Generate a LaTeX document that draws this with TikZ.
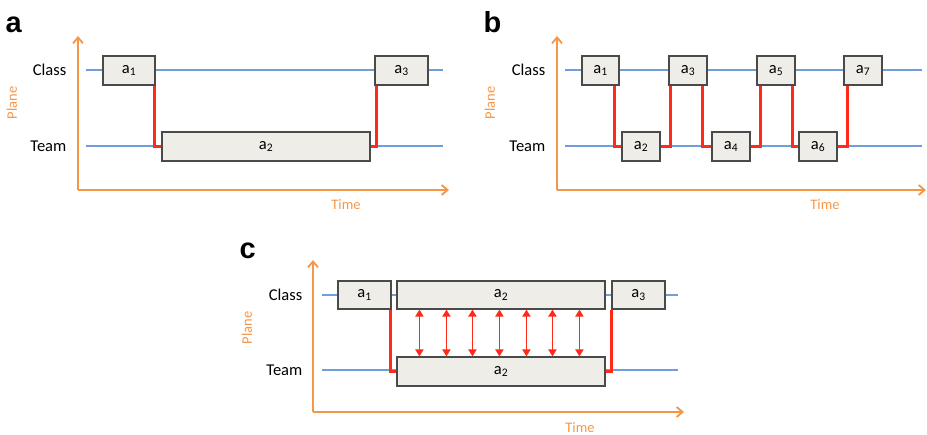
\documentclass[tikz,border=0pt]{standalone}
\usepackage{fontspec}
\setmainfont{Carlito}
\newfontfamily\panelfont{Liberation Sans}
\usetikzlibrary{arrows.meta}

\definecolor{boxfill}{HTML}{EFEDE7}
\definecolor{boxline}{HTML}{4A4A4A}
\definecolor{laneblue}{HTML}{6F9FD8}
\definecolor{axisorange}{HTML}{F79646}
\definecolor{linkred}{HTML}{FF2A1A}

\tikzset{every picture/.style={line width=0.75pt}}

\begin{document}
\begin{tikzpicture}[x=1pt,y=1pt,yscale=-1,xscale=1,
  act/.style={draw=boxline,fill=boxfill,line width=1.1pt,inner sep=0pt,minimum height=29,font=\fontsize{16.5}{16.5}\selectfont},
  lane/.style={draw=laneblue,line width=1.3pt},
  axis/.style={draw=axisorange,line width=1.8pt,-{Straight Barb[length=6pt,width=10pt,line width=1.8pt]}},
  link/.style={draw=linkred,line width=2.5pt},
  sync/.style={draw=linkred,line width=1.8pt,{Triangle[length=7pt,width=8pt]}-{Triangle[length=7pt,width=8pt]}},
  lvl/.style={anchor=east,font=\fontsize{16.5}{16.5}\selectfont},
  axlabel/.style={text=axisorange,font=\fontsize{14.5}{14.5}\selectfont},
  panel/.style={anchor=base west,font=\panelfont\bfseries\fontsize{29}{29}\selectfont}]
\useasboundingbox (0,0) rectangle (927,435);

%%% panel a
\node[panel] (pa) at (2,33) {a};
\coordinate (aO) at (78,190);
\coordinate (aY) at (78,36);
\coordinate (aX) at (449,190);
\draw[axis] (aO) -- (aY);
\draw[axis] (aO) -- (aX);
% Text Node
\node[axlabel,rotate=90] (aPlane) at (12,103) {Plane};
\node[axlabel] (aTime) at (346,205) {Time};
\node[lvl] (aClass) at (70,70) {Class};
\node[lvl] (aTeam) at (70,146) {Team};
% lanes
\coordinate (aCs) at (86,70);  \coordinate (aCe) at (443,70);
\coordinate (aTs) at (86,146); \coordinate (aTe) at (443,146);
\draw[lane] (aCs) -- (aCe);
\draw[lane] (aTs) -- (aTe);
% activities
\node[act,minimum width=52] (aA1) at (129,70.5) {a\textsubscript{1}};
\node[act,minimum width=208] (aA2) at (266,146.5) {a\textsubscript{2}};
\node[act,minimum width=53] (aA3) at (401.5,70.5) {a\textsubscript{3}};
\draw[link] ([xshift=-1]aA1.south east) |- (aA2.west);
\draw[link] (aA2.east) -| ([xshift=2]aA3.south west);

%%% panel b
\node[panel] (pb) at (480,33) {b};
\coordinate (bO) at (557,190);
\coordinate (bY) at (557,36);
\coordinate (bX) at (926,190);
\draw[axis] (bO) -- (bY);
\draw[axis] (bO) -- (bX);
% Text Node
\node[axlabel,rotate=90] (bPlane) at (490,103) {Plane};
\node[axlabel] (bTime) at (825,205) {Time};
\node[lvl] (bClass) at (549,70) {Class};
\node[lvl] (bTeam) at (549,146) {Team};
% lanes
\coordinate (bCs) at (565,70);  \coordinate (bCe) at (922,70);
\coordinate (bTs) at (565,146); \coordinate (bTe) at (922,146);
\draw[lane] (bCs) -- (bCe);
\draw[lane] (bTs) -- (bTe);
% activities
\node[act,minimum width=37] (bA1) at (600.5,70.5) {a\textsubscript{1}};
\node[act,minimum width=38] (bA2) at (641,146.5) {a\textsubscript{2}};
\node[act,minimum width=38] (bA3) at (688,70.5) {a\textsubscript{3}};
\node[act,minimum width=38] (bA4) at (731,146.5) {a\textsubscript{4}};
\node[act,minimum width=38] (bA5) at (776,70.5) {a\textsubscript{5}};
\node[act,minimum width=38] (bA6) at (818,146.5) {a\textsubscript{6}};
\node[act,minimum width=38] (bA7) at (863,70.5) {a\textsubscript{7}};
\draw[link] ([xshift=-5]bA1.south east) |- (bA2.west);
\draw[link] (bA2.east) -| ([xshift=2]bA3.south west);
\draw[link] ([xshift=-5]bA3.south east) |- (bA4.west);
\draw[link] (bA4.east) -| ([xshift=4]bA5.south west);
\draw[link] ([xshift=-3]bA5.south east) |- (bA6.west);
\draw[link] (bA6.east) -| ([xshift=4]bA7.south west);

%%% panel c
\node[panel] (pc) at (236,259) {c};
\coordinate (cO) at (313,412);
\coordinate (cY) at (313,260);
\coordinate (cX) at (684,412);
\draw[axis] (cO) -- (cY);
\draw[axis] (cO) -- (cX);
% Text Node
\node[axlabel,rotate=90] (cPlane) at (247,328) {Plane};
\node[axlabel] (cTime) at (580,428) {Time};
\node[lvl] (cClass) at (306,295) {Class};
\node[lvl] (cTeam) at (306,370) {Team};
% lanes
\coordinate (cCs) at (322,295); \coordinate (cCe) at (678,295);
\coordinate (cTs) at (322,370); \coordinate (cTe) at (678,370);
\draw[lane] (cCs) -- (cCe);
\draw[lane] (cTs) -- (cTe);
% activities
\node[act,minimum width=53,minimum height=28] (cA1) at (364.5,295) {a\textsubscript{1}};
\node[act,minimum width=208,minimum height=28] (cC2) at (501,295) {a\textsubscript{2}};
\node[act,minimum width=53,minimum height=28] (cA3) at (638.5,295) {a\textsubscript{3}};
\node[act,minimum width=208] (cT2) at (501,371.5) {a\textsubscript{2}};
\draw[link] ([xshift=-1]cA1.south east) |- (cT2.west);
\draw[link] (cT2.east) -| (cA3.south west);
% exchange between both a2
\foreach \d in {23,50,76,103,130,156,183}
  \draw[sync] ([xshift=\d]cC2.south west) -- ([xshift=\d]cT2.north west);
\end{tikzpicture}
\end{document}
